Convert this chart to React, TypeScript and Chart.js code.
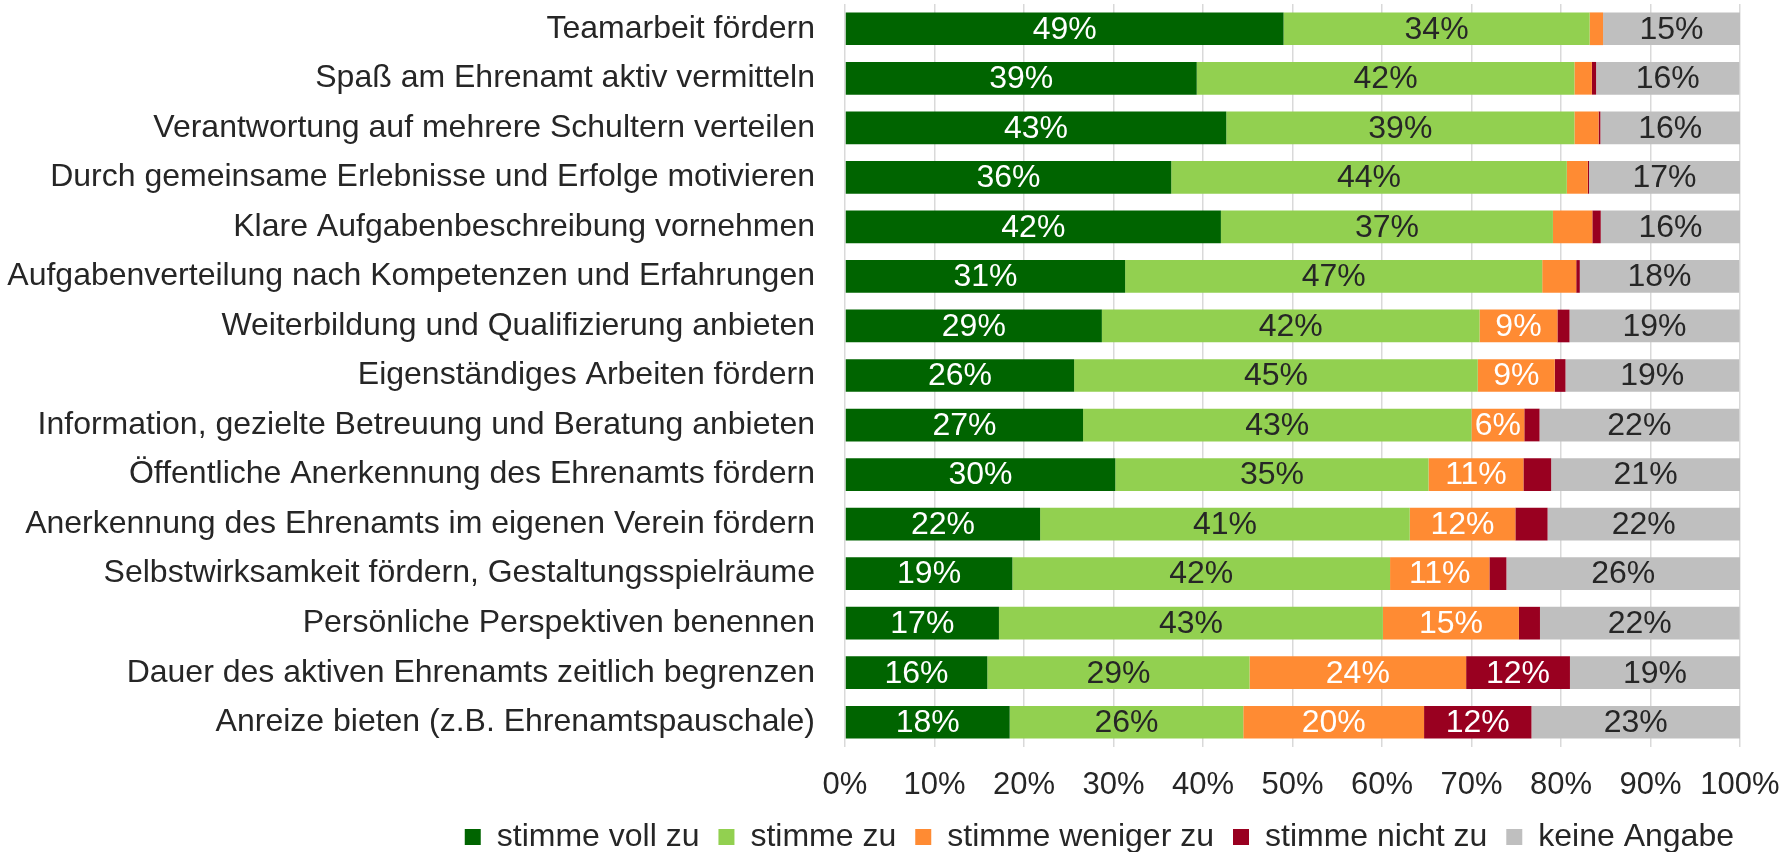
import React, { useEffect, useRef } from "react";
import { Chart, registerables } from "chart.js";

Chart.register(...registerables);

const categories = [
  "Teamarbeit fördern",
  "Spaß am Ehrenamt aktiv vermitteln",
  "Verantwortung auf mehrere Schultern verteilen",
  "Durch gemeinsame Erlebnisse und Erfolge motivieren",
  "Klare Aufgabenbeschreibung vornehmen",
  "Aufgabenverteilung nach Kompetenzen und Erfahrungen",
  "Weiterbildung und Qualifizierung anbieten",
  "Eigenständiges Arbeiten fördern",
  "Information, gezielte Betreuung und Beratung anbieten",
  "Öffentliche Anerkennung des Ehrenamts fördern",
  "Anerkennung des Ehrenamts im eigenen Verein fördern",
  "Selbstwirksamkeit fördern, Gestaltungsspielräume",
  "Persönliche Perspektiven benennen",
  "Dauer des aktiven Ehrenamts zeitlich begrenzen",
  "Anreize bieten (z.B. Ehrenamtspauschale)",
];

const stimmeVollZu = [49.0, 39.3, 42.6, 36.45, 42.0, 31.3, 28.7, 25.6, 26.6, 30.2, 21.8, 18.7, 17.2, 15.9, 18.4];
const stimmeZu = [34.2, 42.2, 38.9, 44.2, 37.1, 46.6, 42.2, 45.1, 43.4, 35.0, 41.3, 42.2, 42.9, 29.3, 26.1];
const stimmeWenigerZu = [1.5, 1.95, 2.7, 2.35, 4.4, 3.8, 8.7, 8.6, 5.9, 10.6, 11.8, 11.1, 15.2, 24.2, 20.2];
const stimmeNichtZu = [0, 0.47, 0.2, 0.13, 0.94, 0.4, 1.35, 1.2, 1.7, 3.1, 3.6, 1.9, 2.35, 11.6, 12.0];
const keineAngabe = [15.3, 16.0, 15.6, 16.87, 15.6, 17.8, 19.0, 19.4, 22.3, 21.1, 21.5, 26.1, 22.3, 19.0, 23.3];

const xTicks = [0, 10, 20, 30, 40, 50, 60, 70, 80, 90, 100];

const FONT = "'Liberation Sans', Arial, sans-serif";
const TEXT = "#262626";

const labelPlugin = {
  id: "segLabels",
  afterDatasetsDraw(chart: any) {
    const ctx = chart.ctx;
    ctx.save();
    ctx.font = `32px ${FONT}`;
    ctx.textAlign = "center";
    ctx.textBaseline = "middle";
    chart.data.datasets.forEach((ds: any, di: number) => {
      const meta = chart.getDatasetMeta(di);
      meta.data.forEach((el: any, i: number) => {
        const v = ds.data[i];
        if (v < 5) return;
        ctx.fillStyle = ds.labelColor;
        ctx.fillText(`${Math.round(v)}%`, (el.x + el.base) / 2, el.y + 1);
      });
    });
    ctx.restore();
  },
};

export default function App() {
  const ref = useRef<HTMLCanvasElement>(null);
  useEffect(() => {
    document.body.style.margin = "0";
    const chart = new Chart(ref.current!, {
      type: "bar",
      data: {
        labels: categories,
        datasets: [
          { label: "stimme voll zu", data: stimmeVollZu, backgroundColor: "#006400", labelColor: "#ffffff" },
          { label: "stimme zu", data: stimmeZu, backgroundColor: "#92D050", labelColor: TEXT },
          { label: "stimme weniger zu", data: stimmeWenigerZu, backgroundColor: "#FF8B33", labelColor: "#ffffff" },
          { label: "stimme nicht zu", data: stimmeNichtZu, backgroundColor: "#990020", labelColor: "#ffffff" },
          { label: "keine Angabe", data: keineAngabe, backgroundColor: "#BFBFBF", labelColor: TEXT },
        ] as any,
      },
      options: {
        indexAxis: "y",
        animation: false,
        responsive: false,
        maintainAspectRatio: false,
        layout: { padding: { left: 0, right: 27, top: 4, bottom: 0 } },
        datasets: { bar: { barPercentage: 0.66, categoryPercentage: 1, borderWidth: 0 } },
        scales: {
          x: {
            stacked: true,
            min: 0,
            max: 100,
            afterBuildTicks(scale: any) {
              scale.ticks = xTicks.map((v) => ({ value: v }));
            },
            afterFit(scale: any) {
              scale.height = 55;
              scale.paddingLeft = 0;
              scale.paddingRight = 40;
            },
            ticks: {
              callback: (v: any) => `${v}%`,
              font: { family: FONT, size: 31 },
              color: TEXT,
              padding: 20,
              maxRotation: 0,
              autoSkip: false,
            },
            grid: { color: "#D9D9D9", lineWidth: 1.5, drawTicks: false },
            border: { display: false },
          },
          y: {
            stacked: true,
            afterFit(scale: any) {
              scale.width = 845;
              scale.paddingTop = 0;
              scale.paddingBottom = 0;
            },
            ticks: {
              font: { family: FONT, size: 32 },
              color: TEXT,
              padding: 30,
              autoSkip: false,
            },
            grid: { display: false, drawTicks: false },
            border: { display: false },
          },
        },
        plugins: {
          tooltip: { enabled: false },
          legend: {
            position: "bottom",
            align: "end",
            maxHeight: 50,
            labels: {
              font: { family: FONT, size: 32 },
              color: TEXT,
              boxWidth: 16,
              boxHeight: 16,
              padding: 19,
            },
          },
        },
      } as any,
      plugins: [labelPlugin],
    });
    return () => chart.destroy();
  }, []);
  return (
    <div style={{ position: "absolute", left: 0, top: 0, width: 1780, height: 852, background: "#fff" }}>
      <canvas ref={ref} width={1780} height={852} style={{ width: 1780, height: 852 }} />
    </div>
  );
}
